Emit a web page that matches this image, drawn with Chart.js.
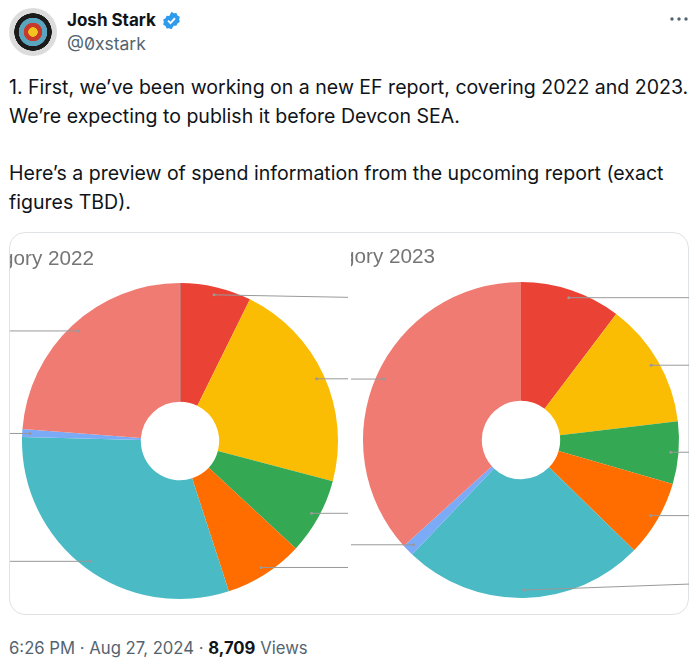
<!DOCTYPE html>
<html>
<head>
<meta charset="utf-8">
<title>Josh Stark</title>
<script src="https://cdn.jsdelivr.net/npm/chart.js@4"></script>
<style>
  html, body { margin: 0; background: #fff; }
  body { position: relative; width: 700px; height: 664px; overflow: hidden; font-family: Inter, "Noto Sans", sans-serif; color: #0f1419; }
  .abs { position: absolute; white-space: pre; }
  #avatar { left: 9px; top: 8px; width: 48px; height: 48px; border-radius: 50%;
    background: radial-gradient(circle at 50% 50%, #f2c21f 0 4.5px, #c8392b 5px 9px, #5aa5bd 9.5px 14px, #1b1b1b 14.5px 18.5px, #dcdcdc 19px 24px); }
  #name { left: 67px; top: 10px; font-size: 17px; font-weight: 700; line-height: 20px; }
  #badge { left: 162px; top: 11px; width: 19px; height: 19px; }
  #handle { left: 67px; top: 34px; font-size: 17.5px; line-height: 20px; color: #536471; font-feature-settings: "zero"; }
  #dots { left: 670px; top: 17px; width: 18px; height: 4px; }
  #body-text { left: 9px; top: 73px; font-size: 19.55px; line-height: 28.7px; }
  #card { left: 9px; top: 232px; width: 680px; height: 383px; box-sizing: border-box; border: 1px solid #dfe3e6; border-radius: 16px; }
  canvas { position: absolute; }
  #chart2022 { left: 10px; top: 233px; }
  #chart2023 { left: 351px; top: 233px; }
  .clip { position: absolute; height: 28px; overflow: hidden; }
  .clip span { position: absolute; right: 0; top: 0; white-space: nowrap; font-family: "Liberation Sans", Arial, sans-serif; font-size: 20.7px; line-height: 26px; color: #757575; }
  #title2022 { left: 10px; top: 245px; width: 84px; }
  #title2023 { left: 351px; top: 243px; width: 84px; }
  #footer { left: 9px; top: 637px; font-size: 16.7px; line-height: 22px; color: #536471; }
  #footer b { color: #0f1419; font-weight: 700; }
</style>
</head>
<body>
<div class="abs" id="avatar"></div>
<div class="abs" id="name">Josh Stark</div>
<svg class="abs" id="badge" viewBox="0 0 22 22"><path fill="#2f9bec" d="M11 1l2.6 1.7 3.1-.3 1.2 2.9 2.7 1.5-.7 3 .7 3-2.7 1.6-1.2 2.8-3.1-.2L11 21l-2.6-1.0-3.1.2-1.2-2.8-2.7-1.6.7-3-.7-3 2.7-1.5 1.2-2.9 3.1.3z"/><path fill="none" stroke="#fff" stroke-width="2.2" d="M7 11.2l2.8 2.8 5.2-5.6"/></svg>
<div class="abs" id="handle">@0xstark</div>
<svg class="abs" id="dots" viewBox="0 0 18 4"><circle cx="2" cy="2" r="1.7" fill="#536471"/><circle cx="9" cy="2" r="1.7" fill="#536471"/><circle cx="16" cy="2" r="1.7" fill="#536471"/></svg>
<div class="abs" id="body-text">1. First, we’ve been working on a new EF report, covering 2022 and 2023.
We’re expecting to publish it before Devcon SEA.

Here’s a preview of spend information from the upcoming report (exact
figures TBD).</div>
<div class="abs" id="card"></div>
<canvas id="chart2022" width="338" height="382"></canvas>
<canvas id="chart2023" width="338" height="382"></canvas>
<div class="clip" id="title2022"><span>Category 2022</span></div>
<div class="clip" id="title2023"><span>Category 2023</span></div>
<div class="abs" id="footer">6:26 PM · Aug 27, 2024 · <b>8,709</b> Views</div>

<script>
// Slices run clockwise from the top, percent of spend
const categories = ['Red', 'Yellow', 'Green', 'Orange', 'Teal', 'Blue', 'Pink'];
const spend2022 = [7.3, 21.8, 7.8, 8.1, 30.4, 0.8, 23.8];
const spend2023 = [10.3, 12.8, 6.4, 7.8, 24.8, 1.2, 36.7];
const sliceColors = ['#EA4335', '#FBBC04', '#34A853', '#FF6D01', '#4ABAC5', '#7BAAF7', '#EF7B72'];

// Draws the cut-off label lines: a dot inside each slice, a line out to the canvas edge
const leaderLines = {
  id: 'leaderLines',
  afterDatasetsDraw(chart, args, opts) {
    const ctx = chart.ctx;
    const arcs = chart.getDatasetMeta(0).data;
    ctx.save();
    ctx.strokeStyle = '#999';
    ctx.fillStyle = '#999';
    ctx.lineWidth = 1;
    if (opts.seam) {
      const first = arcs[0];
      ctx.strokeStyle = '#a9a0a4';
      ctx.beginPath();
      ctx.moveTo(first.x, first.y - first.innerRadius);
      ctx.lineTo(first.x, first.y - first.outerRadius);
      ctx.stroke();
      ctx.strokeStyle = '#999';
    }
    arcs.forEach((arc, i) => {
      const mid = (arc.startAngle + arc.endAngle) / 2;
      const x = arc.x + Math.cos(mid) * arc.outerRadius * 0.95;
      const y = arc.y + Math.sin(mid) * arc.outerRadius * 0.95;
      const edge = Math.cos(mid) > 0 ? chart.width : 0;
      ctx.beginPath();
      ctx.moveTo(x, y);
      ctx.lineTo(edge, y + (opts.slant[i] || 0));
      ctx.stroke();
      ctx.beginPath();
      ctx.arc(x, y, 1.5, 0, Math.PI * 2);
      ctx.fill();
    });
    ctx.restore();
  }
};

function drawPie(id, values, padding, slant, seam) {
  new Chart(document.getElementById(id), {
    type: 'doughnut',
    data: {
      labels: categories,
      datasets: [{
        data: values,
        backgroundColor: sliceColors,
        borderWidth: 0
      }]
    },
    options: {
      responsive: false,
      animation: false,
      cutout: '24.8%',
      layout: { padding: padding },
      plugins: {
        legend: { display: false },
        tooltip: { enabled: false },
        leaderLines: { slant: slant, seam: seam }
      }
    },
    plugins: [leaderLines]
  });
}

drawPie('chart2022', spend2022, { left: 12, right: 10, top: 50, bottom: 16 }, [2.5], true);
drawPie('chart2023', spend2023, { left: 12, right: 10, top: 49, bottom: 17 }, [0, 0, 0, 0, -6], false);
</script>
</body>
</html>
